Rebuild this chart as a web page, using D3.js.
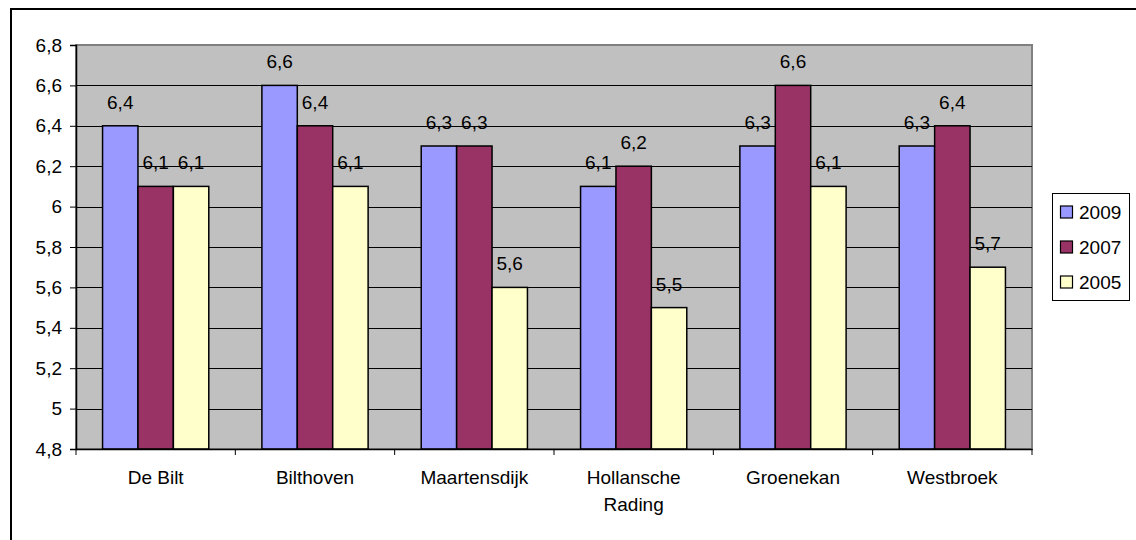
<!DOCTYPE html>
<html>
<head>
<meta charset="utf-8">
<script src="https://cdn.jsdelivr.net/npm/d3@7"></script>
<style>
  html, body { margin: 0; padding: 0; background: #fff; }
  svg { display: block; font-family: "Liberation Sans", Arial, sans-serif; }
</style>
</head>
<body>
<svg id="chart" width="1136" height="540"></svg>
<script>
// Survey scores per village, three survey years
const categories = ["De Bilt", "Bilthoven", "Maartensdijk", "Hollansche Rading", "Groenekan", "Westbroek"];
const seriesNames = ["2009", "2007", "2005"];
const values2009 = [6.4, 6.6, 6.3, 6.1, 6.3, 6.3];
const values2007 = [6.1, 6.4, 6.3, 6.2, 6.6, 6.4];
const values2005 = [6.1, 6.1, 5.6, 5.5, 6.1, 5.7];
const seriesColors = ["#9999FF", "#993366", "#FFFFCC"];
const yTicks = [4.8, 5.0, 5.2, 5.4, 5.6, 5.8, 6.0, 6.2, 6.4, 6.6, 6.8];
const yDomain = [4.8, 6.8];

const series = [values2009, values2007, values2005];

const svg = d3.select("#chart");
const fontSize = 19;

const plot = { left: 76, top: 45, right: 1032, bottom: 449 };

// Dutch number formatting: decimal comma, no trailing zeros
const nl = d3.formatLocale({ decimal: ",", thousands: ".", grouping: [3], currency: ["€", ""] });
const fmt = nl.format("~g");

// Outer chart frame
svg.append("rect")
  .attr("x", 11).attr("y", 9)
  .attr("width", 1300).attr("height", 700)
  .attr("fill", "#fff")
  .attr("stroke", "#000")
  .attr("stroke-width", 2);

const x0 = d3.scaleBand()
  .domain(categories)
  .range([plot.left, plot.right])
  .paddingInner(0).paddingOuter(0);

const groupWidth = x0.bandwidth();
// gap width 150%: 3 bars + 1.5 bar widths of gap per category
const barW = groupWidth / 4.5;
const x1 = d3.scaleBand()
  .domain(seriesNames)
  .range([barW * 0.75, groupWidth - barW * 0.75])
  .padding(0);

const y = d3.scaleLinear().domain(yDomain).range([plot.bottom, plot.top]);

// Plot area background
svg.append("rect")
  .attr("x", plot.left).attr("y", plot.top)
  .attr("width", plot.right - plot.left)
  .attr("height", plot.bottom - plot.top)
  .attr("fill", "#C0C0C0")
  .attr("stroke", "#808080")
  .attr("stroke-width", 2);

// Horizontal gridlines
svg.append("g")
  .selectAll("line")
  .data(yTicks.slice(1, -1))
  .join("line")
  .attr("x1", plot.left).attr("x2", plot.right)
  .attr("y1", d => Math.round(y(d)) + 0.5).attr("y2", d => Math.round(y(d)) + 0.5)
  .attr("stroke", "#000")
  .attr("stroke-width", 1);

// Bars
const groups = svg.append("g")
  .selectAll("g")
  .data(categories)
  .join("g")
  .attr("transform", d => `translate(${x0(d)},0)`);

groups.selectAll("rect")
  .data((d, i) => series.map((s, k) => ({ key: seriesNames[k], value: s[i], color: seriesColors[k] })))
  .join("rect")
  .attr("x", d => x1(d.key))
  .attr("y", d => y(d.value))
  .attr("width", x1.bandwidth())
  .attr("height", d => y(yDomain[0]) - y(d.value))
  .attr("fill", d => d.color)
  .attr("stroke", "#000")
  .attr("stroke-width", 1.5);

// Value labels above bars
groups.selectAll("text")
  .data((d, i) => series.map((s, k) => ({ key: seriesNames[k], value: s[i] })))
  .join("text")
  .attr("x", d => x1(d.key) + x1.bandwidth() / 2)
  .attr("y", d => y(d.value) - 17)
  .attr("text-anchor", "middle")
  .attr("font-size", fontSize)
  .attr("fill", "#000")
  .text(d => fmt(d.value));

// Y axis
const yAxis = d3.axisLeft(y)
  .tickValues(yTicks)
  .tickSize(6)
  .tickPadding(8)
  .tickFormat(fmt);

const yg = svg.append("g")
  .attr("transform", `translate(${plot.left},0)`)
  .call(yAxis);
yg.select(".domain").attr("stroke", "#000").attr("stroke-width", 1.5);
yg.selectAll(".tick line").attr("stroke", "#000");
yg.selectAll(".tick text")
  .attr("font-size", fontSize)
  .attr("font-family", "Liberation Sans, Arial, sans-serif")
  .attr("fill", "#000");

// X axis
const xAxis = d3.axisBottom(x0).tickSize(0).tickPadding(0);
const xg = svg.append("g")
  .attr("transform", `translate(0,${plot.bottom})`)
  .call(xAxis);
xg.select(".domain").attr("stroke", "#000").attr("stroke-width", 1.5);
xg.selectAll(".tick text").remove();

// Category boundary ticks
xg.append("g")
  .selectAll("line")
  .data(categories.map(c => x0(c)).concat([plot.right]))
  .join("line")
  .attr("x1", d => d).attr("x2", d => d)
  .attr("y1", 0).attr("y2", 6)
  .attr("stroke", "#000");

// Category labels, wrapped to band width
const labels = xg.append("g")
  .selectAll("text")
  .data(categories)
  .join("text")
  .attr("x", d => x0(d) + groupWidth / 2)
  .attr("y", 35)
  .attr("text-anchor", "middle")
  .attr("font-size", fontSize)
  .attr("fill", "#000");

labels.each(function (d) {
  const t = d3.select(this);
  const words = d.split(" ");
  let line = [];
  let lineNo = 0;
  let tspan = t.append("tspan").attr("x", x0(d) + groupWidth / 2).attr("dy", 0);
  words.forEach(w => {
    line.push(w);
    tspan.text(line.join(" "));
    if (tspan.node().getComputedTextLength() > groupWidth * 0.9 && line.length > 1) {
      line.pop();
      tspan.text(line.join(" "));
      line = [w];
      lineNo++;
      tspan = t.append("tspan").attr("x", x0(d) + groupWidth / 2).attr("dy", 27).text(w);
    }
  });
});

// Legend
const legend = svg.append("g");
legend.append("rect")
  .attr("x", 1052.5).attr("y", 193.5)
  .attr("width", 77).attr("height", 107)
  .attr("fill", "#fff")
  .attr("stroke", "#000")
  .attr("stroke-width", 1);

const items = legend.selectAll("g.item")
  .data(seriesNames)
  .join("g")
  .attr("class", "item")
  .attr("transform", (d, i) => `translate(1060,${212 + i * 35})`);

items.append("rect")
  .attr("x", 0.5).attr("y", -6)
  .attr("width", 12).attr("height", 12)
  .attr("fill", (d, i) => seriesColors[i])
  .attr("stroke", "#000")
  .attr("stroke-width", 1.2);

items.append("text")
  .attr("x", 19)
  .attr("y", 7)
  .attr("font-size", fontSize)
  .attr("fill", "#000")
  .text(d => d);
</script>
</body>
</html>
